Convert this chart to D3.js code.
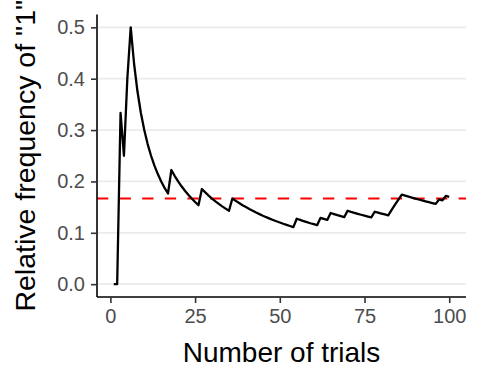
<!DOCTYPE html>
<html>
<head>
<meta charset="utf-8">
<script src="https://cdn.jsdelivr.net/npm/d3@7"></script>
<style>
  body { margin: 0; background: #fff; }
  text { font-family: "Liberation Sans", Arial, sans-serif; }
</style>
</head>
<body>
<div id="chart"></div>
<script>
// running relative frequency of rolling a "1", trial by trial
const trials = d3.range(1, 101);
const relFreq = [
  0, 0, 0.3333, 0.25, 0.4, 0.5, 0.4286, 0.375, 0.3333, 0.3,
  0.2727, 0.25, 0.2308, 0.2143, 0.2, 0.1875, 0.1765, 0.2222, 0.2105, 0.2,
  0.1905, 0.1818, 0.1739, 0.1667, 0.16, 0.1538, 0.1852, 0.1786, 0.1724, 0.1667,
  0.1613, 0.1563, 0.1515, 0.1471, 0.1429, 0.1667, 0.1622, 0.1579, 0.1538, 0.15,
  0.1463, 0.1429, 0.1395, 0.1364, 0.1333, 0.1304, 0.1277, 0.125, 0.1224, 0.12,
  0.1176, 0.1154, 0.1132, 0.1111, 0.1273, 0.125, 0.1228, 0.1207, 0.1186, 0.1167,
  0.1148, 0.129, 0.127, 0.125, 0.1385, 0.1364, 0.1343, 0.1324, 0.1304, 0.1429,
  0.1408, 0.1389, 0.137, 0.1351, 0.1333, 0.1316, 0.1299, 0.141, 0.1392, 0.1375,
  0.1358, 0.1341, 0.1446, 0.1548, 0.1647, 0.1744, 0.1724, 0.1705, 0.1685, 0.1667,
  0.1648, 0.163, 0.1613, 0.1596, 0.1579, 0.1563, 0.1649, 0.1633, 0.1717, 0.17
];
const expected = 0.1667;
const xTicks = [0, 25, 50, 75, 100];
const yTicks = [0, 0.1, 0.2, 0.3, 0.4, 0.5];

const width = 480, height = 384;
const panel = {left: 97, right: 466, top: 14.5, bottom: 297};

const svg = d3.select("#chart")
  .append("svg")
    .attr("width", width)
    .attr("height", height);

const x = d3.scaleLinear()
  .domain([-3.95, 104.95])
  .range([panel.left, panel.right]);

const y = d3.scaleLinear()
  .domain([-0.025, 0.525])
  .range([panel.bottom, panel.top]);

// horizontal grid
svg.append("g")
  .selectAll("line")
  .data(yTicks)
  .join("line")
    .attr("x1", panel.left)
    .attr("x2", panel.right)
    .attr("y1", d => y(d))
    .attr("y2", d => y(d))
    .attr("stroke", "#ebebeb")
    .attr("stroke-width", 1.8);

// reference line at 1/6
svg.append("line")
  .attr("x1", panel.left)
  .attr("x2", panel.right)
  .attr("y1", y(expected))
  .attr("y2", y(expected))
  .attr("stroke", "#ff0000")
  .attr("stroke-width", 2)
  .attr("stroke-dasharray", "11.3,11.3");

// frequency line
const line = d3.line()
  .x((d, i) => x(trials[i]))
  .y(d => y(d));

svg.append("path")
  .datum(relFreq)
  .attr("fill", "none")
  .attr("stroke", "#000")
  .attr("stroke-width", 2.3)
  .attr("stroke-linejoin", "round")
  .attr("d", line);

// axes
const xAxis = svg.append("g")
  .attr("transform", `translate(0,${panel.bottom})`)
  .call(d3.axisBottom(x).tickValues(xTicks).tickSize(6).tickPadding(6).tickFormat(d3.format("d")));

const yAxis = svg.append("g")
  .attr("transform", `translate(${panel.left},0)`)
  .call(d3.axisLeft(y).tickValues(yTicks).tickSize(6).tickPadding(6).tickFormat(d3.format(".1f")));

[xAxis, yAxis].forEach(g => {
  g.select(".domain").attr("stroke", "#000").attr("stroke-width", 1.6);
  g.selectAll(".tick line").attr("stroke", "#333").attr("stroke-width", 1.6);
  g.selectAll(".tick text")
    .attr("fill", "#4d4d4d")
    .style("font-size", "20px")
    .style("font-family", "Liberation Sans, Arial, sans-serif");
});
// trim the domain ends so the axes stop at the panel
xAxis.select(".domain").attr("d", `M${panel.left},0H${panel.right}`);
yAxis.select(".domain").attr("d", `M0,${panel.bottom}V${panel.top}`);

// axis titles
svg.append("text")
  .attr("x", (panel.left + panel.right) / 2)
  .attr("y", 362)
  .attr("text-anchor", "middle")
  .style("font-size", "28px")
  .text("Number of trials");

svg.append("text")
  .attr("transform", `translate(35,${(panel.top + panel.bottom) / 2}) rotate(-90)`)
  .attr("text-anchor", "middle")
  .style("font-size", "28.5px")
  .text('Relative frequency of "1"');
</script>
</body>
</html>
